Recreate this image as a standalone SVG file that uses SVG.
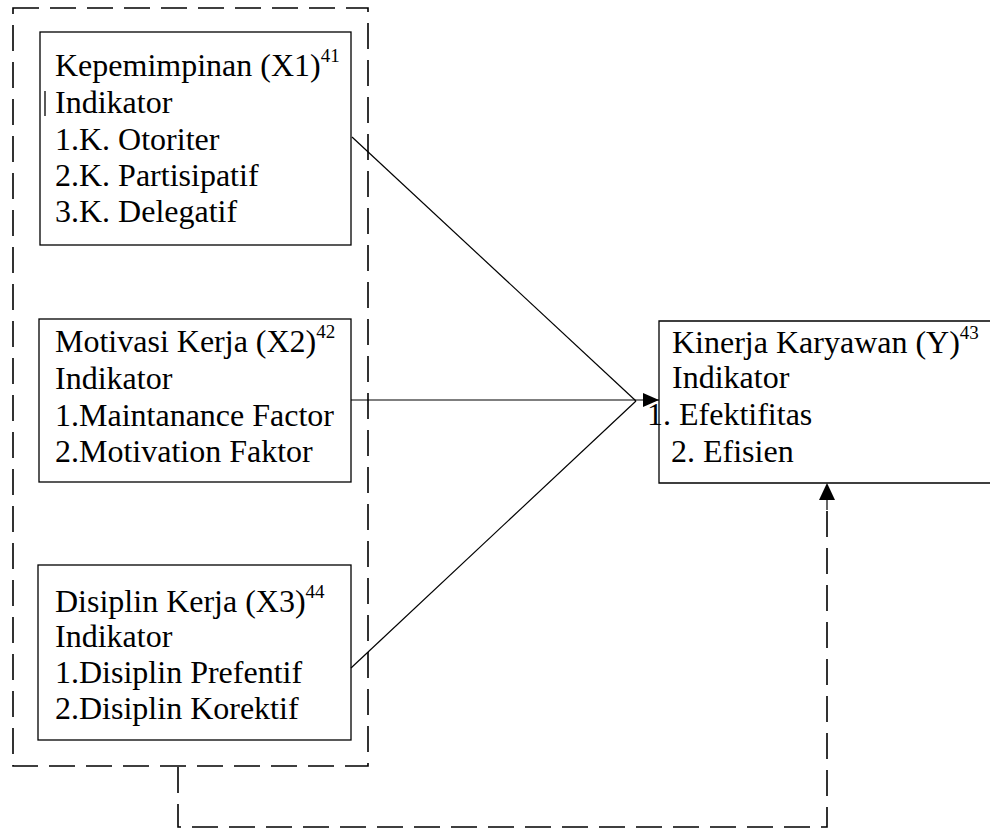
<svg xmlns="http://www.w3.org/2000/svg" width="990" height="831" viewBox="0 0 990 831">
<style>
.bg{fill:#fff}
.box{fill:none;stroke:#000;stroke-width:1.3}
.dash{fill:none;stroke:#000;stroke-width:1.6;stroke-dasharray:26 11}
.line{fill:none;stroke:#000;stroke-width:1.2}
text{font-family:"Liberation Serif","Times New Roman",serif;font-size:32px;fill:#000}
.sup{font-size:19px}
</style>
<defs>
<marker id="arr" markerWidth="16" markerHeight="14" refX="16" refY="7" orient="auto" markerUnits="userSpaceOnUse">
<path d="M0,0 L16,7 L0,14 Z" fill="#000"/>
</marker>
</defs>
<rect class="bg" x="0" y="0" width="990" height="831"/>
<g id="group-x">
<rect class="dash" x="13" y="8" width="355" height="758"/>
</g>
<g id="connectors">
<line class="line" x1="352" y1="137" x2="636" y2="401"/>
<line class="line" x1="351" y1="668" x2="636" y2="401"/>
<line class="line" x1="351" y1="400" x2="659" y2="400" marker-end="url(#arr)"/>
<path class="dash" d="M178,767 V827 H827 V500"/>
<line class="line" x1="827" y1="500" x2="827" y2="510" stroke-width="1.6"/>
<path d="M827,483 L835,500 L819,500 Z" fill="#000"/>
</g>
<g id="node-x1">
<rect class="box" x="40" y="32" width="311" height="213"/>
<line x1="45" y1="91" x2="45" y2="116" stroke="#000" stroke-width="1.3"/>
<text x="55" y="76">Kepemimpinan (X1)<tspan class="sup" dy="-14">41</tspan></text>
<text x="55" y="113">Indikator</text>
<text x="55" y="150">1.K. Otoriter</text>
<text x="55" y="186">2.K. Partisipatif</text>
<text x="55" y="222">3.K. Delegatif</text>
</g>
<g id="node-x2">
<rect class="box" x="39" y="319" width="312" height="163"/>
<text x="55" y="352">Motivasi Kerja (X2)<tspan class="sup" dy="-14">42</tspan></text>
<text x="55" y="389">Indikator</text>
<text x="55" y="426">1.Maintanance Factor</text>
<text x="55" y="462">2.Motivation Faktor</text>
</g>
<g id="node-x3">
<rect class="box" x="38" y="565" width="313" height="175"/>
<text x="55" y="612">Disiplin Kerja (X3)<tspan class="sup" dy="-14">44</tspan></text>
<text x="55" y="647">Indikator</text>
<text x="55" y="683">1.Disiplin Prefentif</text>
<text x="55" y="719">2.Disiplin Korektif</text>
</g>
<g id="node-y">
<path class="box" d="M992,321 H659 V483 H992"/>
<text x="672" y="353">Kinerja Karyawan (Y)<tspan class="sup" dy="-14">43</tspan></text>
<text x="672" y="388">Indikator</text>
<text x="647" y="425">1. Efektifitas</text>
<text x="671" y="462">2. Efisien</text>
</g>
</svg>
